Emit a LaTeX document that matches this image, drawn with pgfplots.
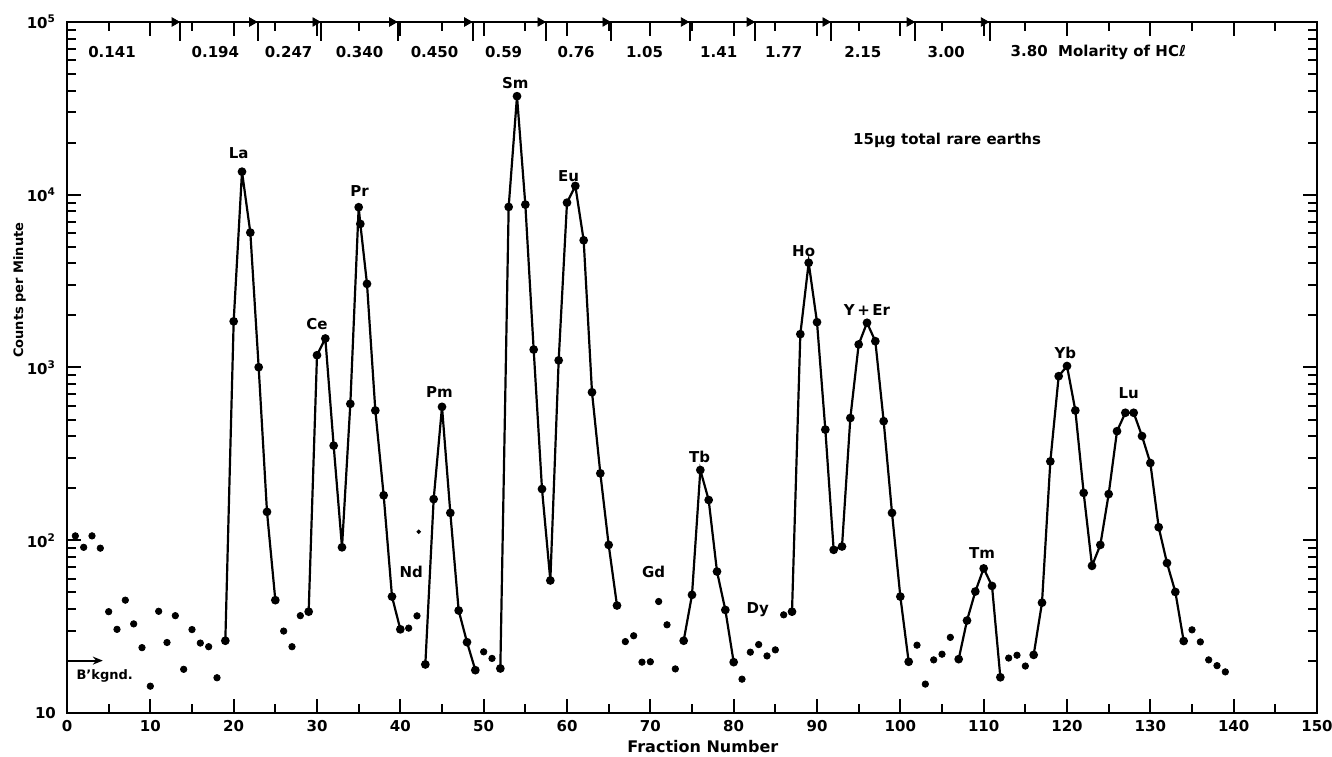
\documentclass[border=0pt]{standalone}
\usepackage{pgfplots}
\pgfplotsset{compat=1.18}
\usetikzlibrary{arrows.meta}
\usepackage{fontspec}
\setmainfont{DejaVu Sans}
\newcommand\lab{\fontsize{7.5}{9}\selectfont\bfseries}
\newcommand\labs{\fontsize{6.5}{8}\selectfont\bfseries}
\begin{document}
\begin{tikzpicture}
\useasboundingbox (0,0) rectangle (666pt,378pt);
\begin{axis}[at={(33.5pt,21.5pt)}, anchor=south west, scale only axis,
  width=625pt, height=345.5pt,
  xmin=0, xmax=150, ymode=log, ymin=10, ymax=100000,
  xtick={0,10,...,150}, minor x tick num=1,
  ytick={10,100,1000,10000,100000},
  yticklabels={10,10\textsuperscript{2},10\textsuperscript{3},10\textsuperscript{4},10\textsuperscript{5}},
  tick align=inside, major tick length=7pt, minor tick length=4.5pt,
  tick style={black, line width=1pt},
  axis line style={line width=1.2pt},
  tick label style={font=\lab},
  xticklabel style={/pgf/number format/assume math mode=true},
  yticklabel style={xshift=-2pt},
  clip=false,
]
% connected segments
\addplot[black, line width=1.1pt, mark=*, mark size=1.6pt] coordinates {
(19,26.2) (20,1850) (21,13600) (22,6040) (23,1004) (24,146) (25,45)};
\addplot[black, line width=1.1pt, mark=*, mark size=1.6pt] coordinates {
(29,38.6) (30,1178) (31,1472) (32,353) (33,91) (34,616) (35,8470) (35.2,6780) (36,3050) (37,564) (38,182) (39,47.2) (40,30.5)};
\addplot[black, line width=1.1pt, mark=*, mark size=1.6pt] coordinates {
(43,19.1) (44,173) (45,592) (46,144) (47,39.2) (48,25.7) (49,17.7)};
\addplot[black, line width=1.1pt, mark=*, mark size=1.6pt] coordinates {
(52,18.1) (53,8500) (54,37200) (55,8770) (56,1270) (57,198) (58,58.5) (59,1100) (60,9000) (61,11250) (62,5450) (63,719) (64,244) (65,94) (66,41.9)};
\addplot[black, line width=1.1pt, mark=*, mark size=1.6pt] coordinates {
(74,26.2) (75,48.3) (76,255) (77,171) (78,65.9) (79,39.5) (80,19.7)};
\addplot[black, line width=1.1pt, mark=*, mark size=1.6pt] coordinates {
(87,38.6) (88,1560) (89,4040) (90,1830) (91,437) (92,88) (93,92) (94,510) (95,1360) (96,1815) (97,1420) (98,489) (99,144) (100,47.2) (101,19.8)};
\addplot[black, line width=1.1pt, mark=*, mark size=1.6pt] coordinates {
(107,20.5) (108,34.3) (109,50.5) (110,68.7) (111,54.4) (112,16.1)};
\addplot[black, line width=1.1pt, mark=*, mark size=1.6pt] coordinates {
(116,21.7) (117,43.5) (118,286) (119,891) (120,1020) (121,564) (122,188) (123,71.1) (124,94) (125,185) (126,428) (127,547) (128,547) (129,401) (130,280) (131,119) (132,73.8) (133,50.2) (134,26.1)};
% isolated points
\addplot[black, only marks, mark=*, mark size=1.6pt] coordinates {
(1,106) (2,91) (3,106) (4,90) (5,38.6) (6,30.5) (7,45) (8,32.8) (9,23.9) (10,14.3)
(11,38.8) (12,25.6) (13,36.6) (14,17.9) (15,30.4) (16,25.4) (17,24.2) (18,16.0)
(26,29.8) (27,24.2) (28,36.6) (41,31) (42,36.5) (50,22.6) (51,20.7)
(67,25.9) (68,28) (69,19.7) (70,19.8) (71,44.2) (72,32.4) (73,18)
(81,15.7) (82,22.5) (83,24.9) (84,21.4) (85,23.2) (86,37)
(102,24.7) (103,14.7) (104,20.3) (105,21.9) (106,27.4)
(113,20.8) (114,21.6) (115,18.7)
(135,30.3) (136,25.8) (137,20.3) (138,18.8) (139,17.3)};
\addplot[black, only marks, mark=*, mark size=0.9pt] coordinates {(42.2,112)};
% background arrow
\addplot[black, line width=1pt, -{Stealth[length=5pt,width=4pt]}] coordinates {(0.3,20.1) (4.3,20.1)};
\node[font=\labs, anchor=west] at (axis cs:0.3,16.4) {B'kgnd.};
% molarity change arrows on top axis
\addplot[black, only marks, mark=triangle*, mark size=2.4pt, mark options={rotate=-90}] coordinates {
(12.9,100000) (22.2,100000) (29.8,100000) (39.0,100000) (48.0,100000) (56.8,100000) (64.6,100000) (74.0,100000) (81.9,100000) (91.0,100000) (101.1,100000) (110.0,100000)};
% molarity labels
\node[font=\lab] at (axis cs:5.4,67000) {0.141};
\node[font=\lab] at (axis cs:17.8,67000) {0.194};
\node[font=\lab] at (axis cs:26.6,67000) {0.247};
\node[font=\lab] at (axis cs:35.1,67000) {0.340};
\node[font=\lab] at (axis cs:44.1,67000) {0.450};
\node[font=\lab] at (axis cs:52.4,67000) {0.59};
\node[font=\lab] at (axis cs:61.1,67000) {0.76};
\node[font=\lab] at (axis cs:69.3,67000) {1.05};
\node[font=\lab] at (axis cs:78.2,67000) {1.41};
\node[font=\lab] at (axis cs:86.0,67000) {1.77};
\node[font=\lab] at (axis cs:95.5,67000) {2.15};
\node[font=\lab] at (axis cs:105.5,67000) {3.00};
\node[font=\lab, anchor=west] at (axis cs:112.4,67000) {3.80\ \ Molarity of HCℓ};
% element labels
\node[font=\lab] at (axis cs:20.6,17460) {La};
\node[font=\lab] at (axis cs:30.0,1787) {Ce};
\node[font=\lab] at (axis cs:35.1,10550) {Pr};
\node[font=\lab] at (axis cs:44.7,724) {Pm};
\node[font=\lab] at (axis cs:41.3,65.8) {Nd};
\node[font=\lab] at (axis cs:53.8,44200) {Sm};
\node[font=\lab] at (axis cs:60.2,12740) {Eu};
\node[font=\lab] at (axis cs:70.4,65.8) {Gd};
\node[font=\lab] at (axis cs:75.9,305) {Tb};
\node[font=\lab] at (axis cs:82.9,39.5) {Dy};
\node[font=\lab] at (axis cs:88.4,4740) {Ho};
\node[font=\lab] at (axis cs:96.0,2153) {Y\,+\,Er};
\node[font=\lab] at (axis cs:109.8,84.8) {Tm};
\node[font=\lab] at (axis cs:119.8,1208) {Yb};
\node[font=\lab] at (axis cs:127.4,710) {Lu};
\node[font=\lab, anchor=west] at (axis cs:93.5,20560) {15μg total rare earths};
% axis titles
\node[font=\fontsize{8}{9}\selectfont\bfseries] at (axis cs:76.3,6.4) {Fraction Number};
\node[font=\fontsize{6.5}{8}\selectfont\bfseries, rotate=90] at (axis cs:-5.7,2800) {Counts per Minute};
\end{axis}
% long ticks marking the molarity changes
\begin{axis}[at={(33.5pt,21.5pt)}, anchor=south west, scale only axis,
  width=625pt, height=345.5pt, xmin=0, xmax=150, ymin=0, ymax=1,
  axis line style={draw=none}, xtick pos=right, ytick=\empty,
  xtick={13.6,22.9,30.5,39.7,48.7,57.5,65.3,74.7,82.6,91.7,101.8,110.7},
  xticklabels={,,,,,,,,,,,}, xticklabel style={opacity=0},
  tick align=inside, major tick length=9.5pt,
  tick style={black, line width=1pt}]
\end{axis}
\end{tikzpicture}
\end{document}
